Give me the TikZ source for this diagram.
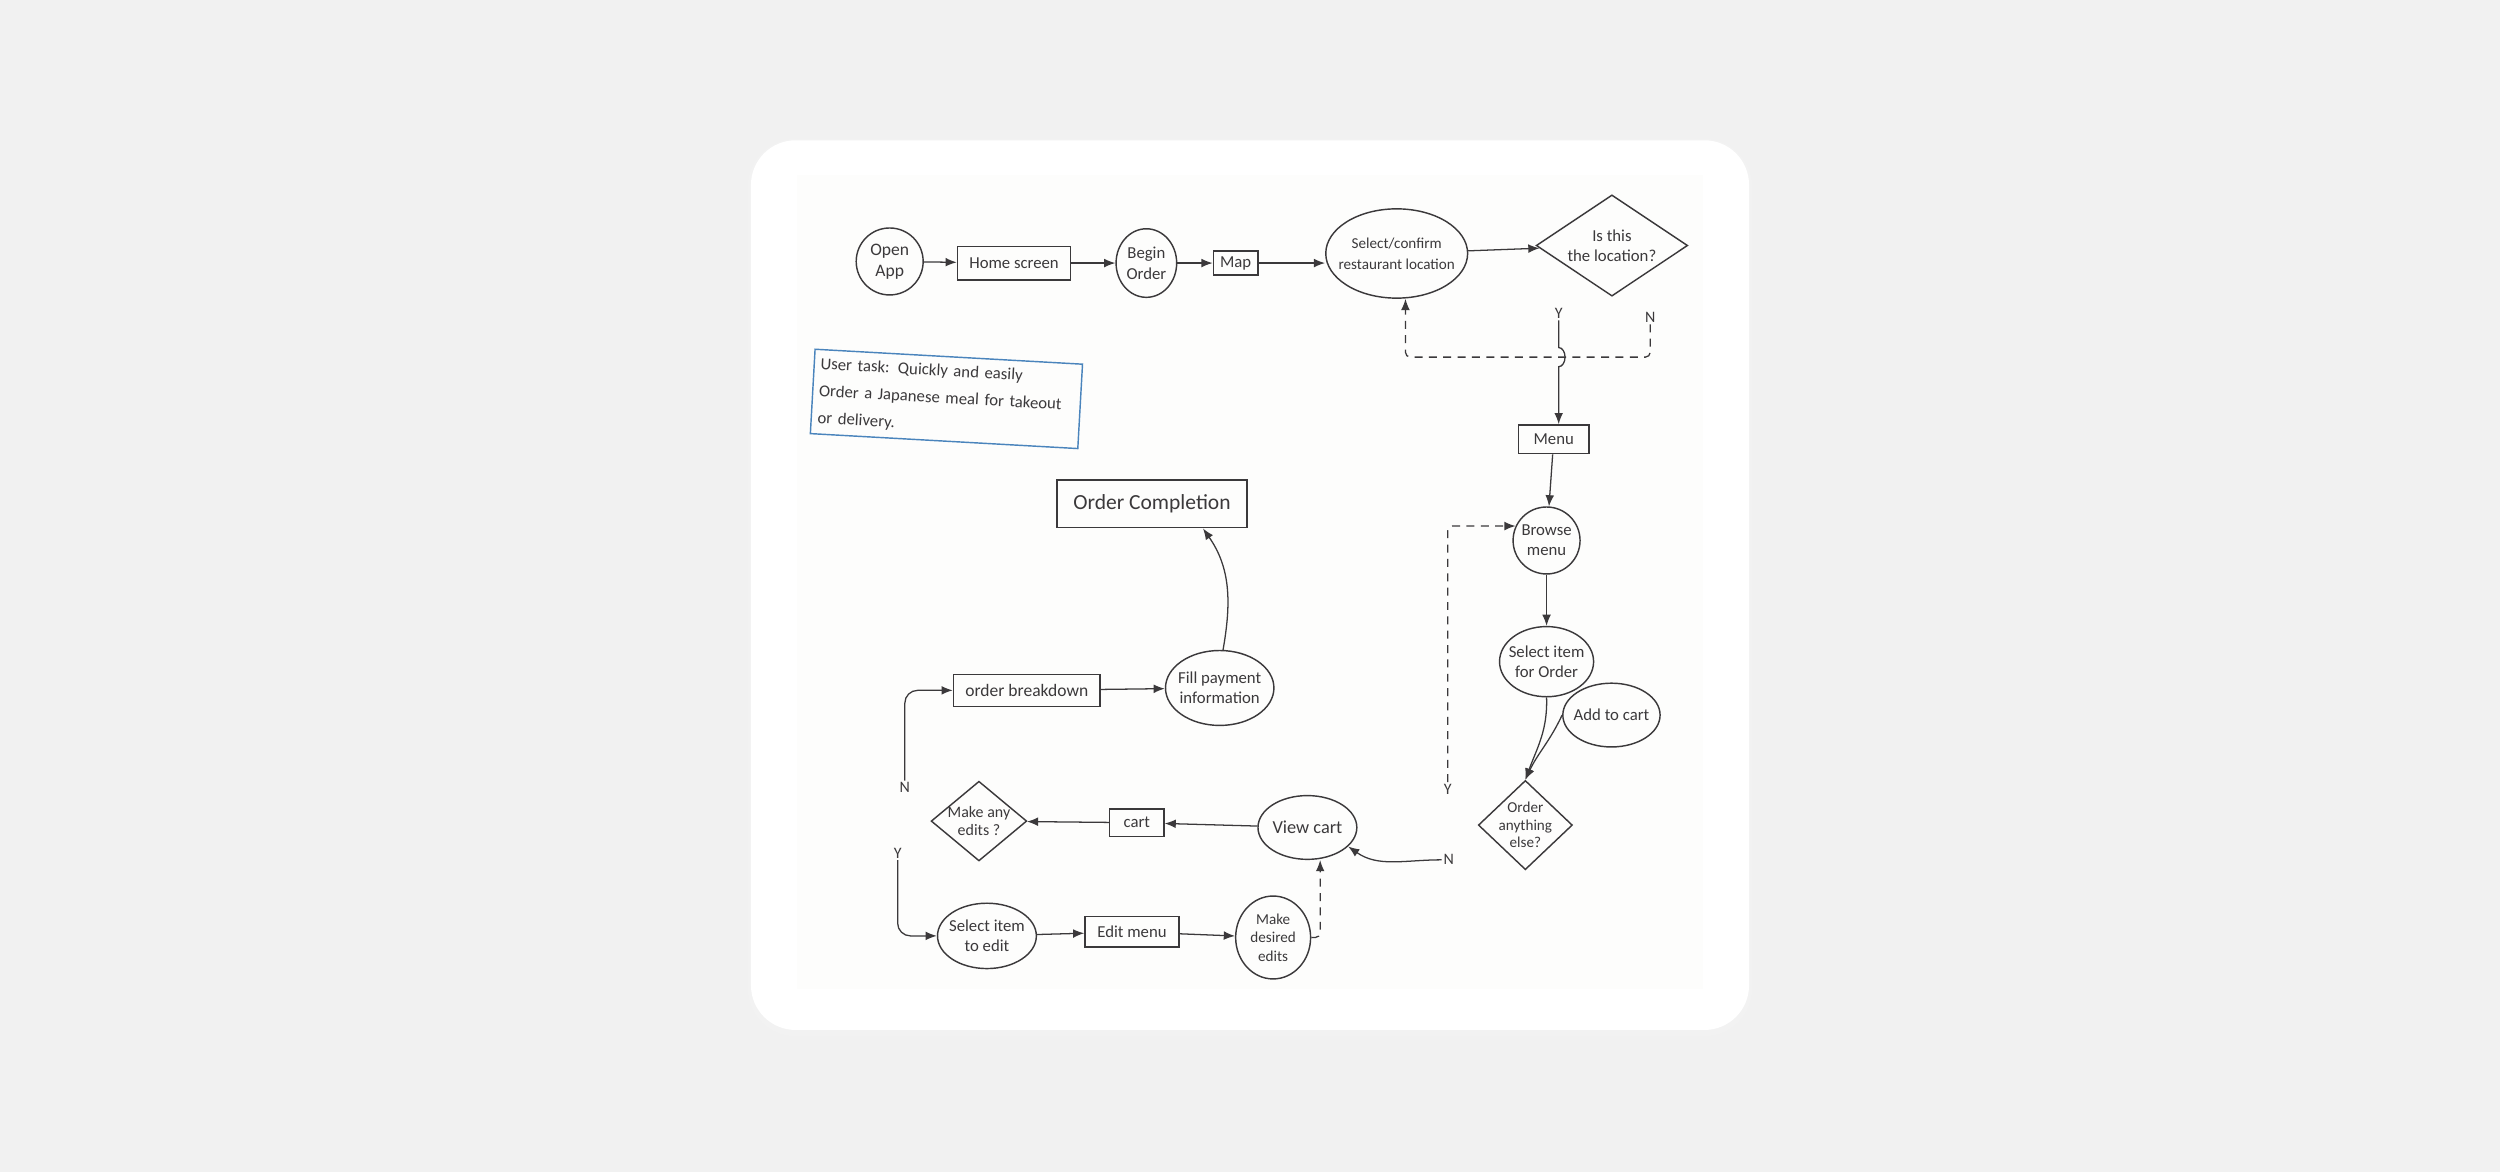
\documentclass[tikz,border=0pt]{standalone}
\usepackage{fontspec}
\setmainfont{Carlito}
\usepackage{tikz}
\usetikzlibrary{shapes.geometric, arrows, arrows.meta, positioning, calc}
\definecolor{ink}{HTML}{3B393B}
\definecolor{taskblue}{HTML}{4A84BC}
\definecolor{pagebg}{HTML}{F1F1F1}
\definecolor{paper}{HTML}{FDFDFC}

\begin{document}
\begin{tikzpicture}[x=1pt, y=1pt,
    screen/.style={rectangle, draw=ink, line width=0.9pt, inner sep=1pt, font=\fontsize{10.5}{12}\selectfont, text=ink},
    bubble/.style={ellipse, draw=ink, line width=0.9pt, inner sep=-5pt, align=center, font=\fontsize{10.5}{12.5}\selectfont, text=ink},
    choice/.style={diamond, draw=ink, line width=0.9pt, inner sep=-3pt, align=center, font=\fontsize{10}{11.5}\selectfont, text=ink},
    yn/.style={inner sep=1pt, font=\fontsize{10}{11}\selectfont, text=ink},
    flow/.style={draw=ink, line width=0.8pt, -{Latex[length=7pt, width=5.5pt]}},
    dashflow/.style={flow, dash pattern=on 5pt off 4pt}
]
\useasboundingbox (0,0) rectangle (1568,735);
\fill[pagebg] (0,0) rectangle (1568,735);
\fill[black!5, rounded corners=30pt] (469,85) rectangle (1099,648);
\fill[white, rounded corners=28pt] (471,89) rectangle (1097,647);
\fill[paper] (500,115) rectangle (1068,625);

\node[bubble, minimum width=42pt, minimum height=42pt, font=\fontsize{11}{13}\selectfont] (open) at (558,571) {Open\\App};
\node[screen, minimum width=71pt, minimum height=21pt] (home) at (636,570) {Home screen};
\node[bubble, minimum width=38pt, minimum height=43pt, font=\fontsize{10.5}{13}\selectfont] (begin) at (719,570) {Begin\\Order};
\node[screen, minimum width=28pt, minimum height=15pt, inner sep=0pt] (map) at (775,570) {Map};
\node[bubble, minimum width=88pt, minimum height=56pt, font=\fontsize{9.5}{13}\selectfont] (confirm) at (876,576) {Select/confirm\\restaurant location};
\node[choice, minimum width=95pt, minimum height=61pt, font=\fontsize{10.5}{12.5}\selectfont] (isloc) at (1011,581) {Is this\\the location?};
\node[yn] (yloc) at (977.6,538.4) {Y};
\node[yn] (nloc) at (1035,536) {N};
\node[screen, minimum width=44pt, minimum height=18pt] (menu) at (974.5,459.5) {Menu};
\node[bubble, minimum width=42pt, minimum height=42pt] (browse) at (970,396) {Browse\\menu};
\node[bubble, minimum width=59pt, minimum height=44pt] (pick) at (970,320) {Select item\\for Order};
\node[bubble, minimum width=61pt, minimum height=40pt] (addcart) at (1010.7,286.5) {Add to cart};
\node[choice, minimum width=59pt, minimum height=56pt, font=\fontsize{9.5}{11}\selectfont] (more) at (956.7,217.5) {Order\\anything\\else?};
\node[yn] (ymore) at (908,240) {Y};
\node[yn] (nmore) at (908.6,195.7) {N};
\node[bubble, minimum width=62pt, minimum height=40pt, font=\fontsize{11.5}{13}\selectfont] (view) at (820,216) {View cart};
\node[screen, minimum width=34pt, minimum height=17pt] (cart) at (713,219) {cart};
\node[choice, minimum width=60pt, minimum height=50pt] (edits) at (614,220) {Make any\\edits ?};
\node[yn] (nedits) at (567.5,241) {N};
\node[yn] (yedits) at (563,200) {Y};
\node[screen, minimum width=92pt, minimum height=20pt, font=\fontsize{11}{12}\selectfont] (breakdown) at (644,302) {order breakdown};
\node[bubble, minimum width=68pt, minimum height=47pt] (payment) at (765,303.5) {Fill payment\\information};
\node[screen, minimum width=119pt, minimum height=30pt, font=\fontsize{13.5}{15}\selectfont] (done) at (722.5,419) {Order Completion};
\node[bubble, minimum width=62pt, minimum height=41pt] (pickedit) at (619,148) {Select item\\to edit};
\node[screen, minimum width=59pt, minimum height=19pt] (editmenu) at (710,150.5) {Edit menu};
\node[bubble, minimum width=47pt, minimum height=52pt, font=\fontsize{9.5}{11.5}\selectfont] (desired) at (798.5,147) {Make\\desired\\edits};
\node[draw=taskblue, line width=0.9pt, rotate=-3.2, minimum width=168pt, minimum height=53pt, text width=160pt, inner sep=4pt, align=left, font=\fontsize{10.5}{17}\selectfont, text=ink] (task) at (593.6,484.8) {User task: Quickly and easily\\Order a Japanese meal for takeout\\or delivery.};

\coordinate (hop) at (977.6,511);
\coordinate (nturn) at (881.5,511);

\draw[flow] (open) -- (home);
\draw[flow] (home) -- (begin);
\draw[flow] (begin) -- (map);
\draw[flow] (map) -- (map -| confirm.west);
\draw[flow] (confirm) -- (isloc);
\draw[flow] (yloc.south) -- ([yshift=6pt]hop) arc[start angle=90, end angle=-90, x radius=4pt, y radius=6pt] -- (hop |- menu.north);
\draw[dashflow, rounded corners=3pt] (nloc.south) |- (nturn) -- (nturn |- confirm.south);
\draw[flow] (menu) -- (browse);
\draw[flow] (browse) -- (pick);
\draw[flow] (pick.south) to[out=-88, in=70] (more.north);
\draw[flow] (addcart.west) to[out=-115, in=65] (more.north);
\draw[dashflow, rounded corners=3pt] (ymore.north) |- (browse.155);
\draw[flow] (nmore.west) to[out=180, in=-35] (view.-25);
\draw[flow] (view) -- (cart);
\draw[flow] (cart) -- (edits);
\draw[flow, rounded corners=8pt] (nedits.north) |- (breakdown.west);
\draw[flow] (breakdown) -- (payment);
\draw[flow] (payment.85) to[out=80, in=-55] ([xshift=32pt]done.south);
\draw[flow, rounded corners=8pt] (yedits.south) |- (pickedit.west);
\draw[flow] (pickedit) -- (editmenu);
\draw[flow] (editmenu) -- (desired);
\draw[dashflow, rounded corners=3pt] (desired.east) -| ([xshift=8pt]view.south);
\end{tikzpicture}
\end{document}
